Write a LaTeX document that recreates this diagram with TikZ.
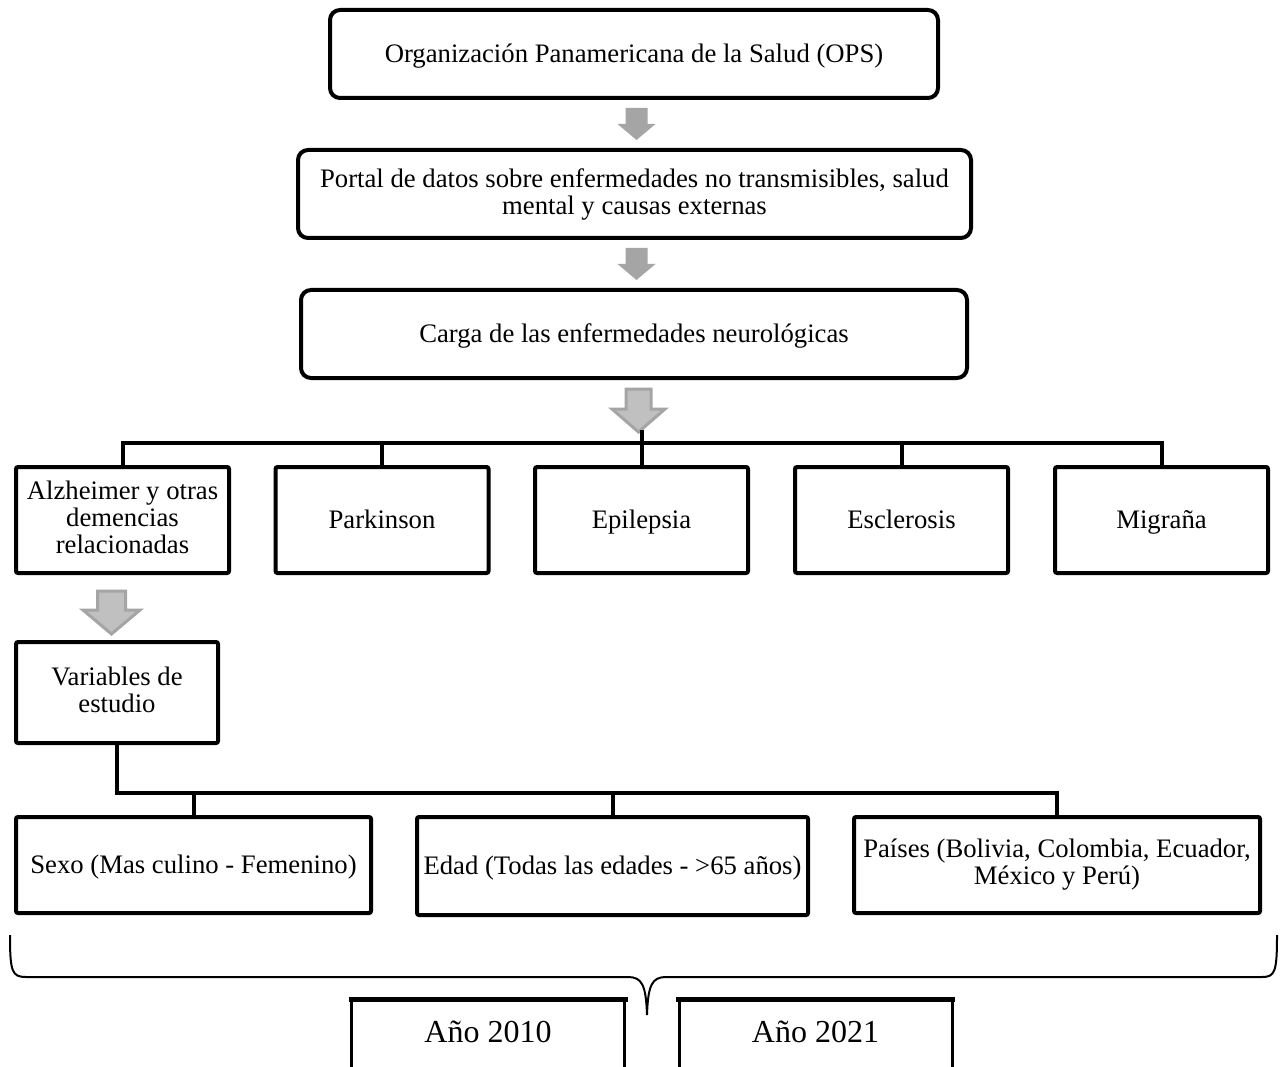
\documentclass[tikz,border=0pt]{standalone}
\usepackage{fontspec}
\setmainfont{Liberation Serif}
\usetikzlibrary{calc}
\definecolor{arrgray}{HTML}{A5A5A5}
\definecolor{arrfill}{HTML}{C0C0C0}
\newcommand{\mystrut}{\rule[-5pt]{0pt}{27pt}}
\begin{document}
\begin{tikzpicture}[x=1pt,y=-1pt,
  txt/.style={font=\fontsize{26.7}{27}\selectfont, align=center, inner sep=0pt,
    execute at begin node={\mystrut}, execute at end node={\mystrut}},
  roundbox/.style={txt, draw, line width=4pt, rounded corners=10pt},
  sqbox/.style={txt, draw, line width=4pt, rounded corners=2pt},
  yearbox/.style={draw, line width=3pt, inner sep=0pt, font=\fontsize{32}{36}\selectfont},
  conn/.style={line width=4pt},
  flatarrow/.style={fill=arrgray, draw=none},
  outarrow/.style={fill=arrfill, draw=arrgray, line width=3pt, line join=miter},
  bracestyle/.style={line width=2pt}
]
\useasboundingbox (0,0) rectangle (1280,1067);
\clip (0,0) rectangle (1280,1067);
\fill[white] (0,0) rectangle (1280,1067);

% top boxes
\node[roundbox, minimum width=608pt, minimum height=88pt] (ops) at (634,54) {Organización Panamericana de la Salud (OPS)};
\node[roundbox, minimum width=673pt, minimum height=88pt] (portal) at (634.5,194) {Portal de datos sobre enfermedades no transmisibles, salud\\mental y causas externas};
\node[roundbox, minimum width=666pt, minimum height=88pt] (carga) at (634,334) {Carga de las enfermedades neurológicas};

% block arrows
\fill[flatarrow] (625.5,108) -- (647.5,108) -- (647.5,124) -- (655.5,124) -- (636.5,140) -- (617.5,124) -- (625.5,124) -- cycle;
\fill[flatarrow] (625.5,248) -- (647.5,248) -- (647.5,264) -- (655.5,264) -- (636.5,280) -- (617.5,264) -- (625.5,264) -- cycle;
\filldraw[outarrow] (626,389) -- (651,389) -- (651,409) -- (665,409) -- (638.5,432) -- (612,409) -- (626,409) -- cycle;

% disease row
\node[sqbox, minimum width=213pt, minimum height=106pt] (alz) at (122.5,520) {Alzheimer y otras\\demencias\\relacionadas};
\node[sqbox, minimum width=213pt, minimum height=106pt] (park) at (382,520) {Parkinson};
\node[sqbox, minimum width=213pt, minimum height=106pt] (epi) at (641.5,520) {Epilepsia};
\node[sqbox, minimum width=213pt, minimum height=106pt] (escl) at (901.5,520) {Esclerosis};
\node[sqbox, minimum width=213pt, minimum height=106pt] (mig) at (1161.5,520) {Migraña};

\coordinate (bus) at (641.5,443);
\draw[conn] (alz.north) |- (bus) -| (mig.north);
\draw[conn] (park.north) -- (park.north |- bus);
\draw[conn] (escl.north) -- (escl.north |- bus);
\draw[conn] (epi.north) -- ($(epi.north |- bus)+(0,-13)$);

% arrow to variables
\filldraw[outarrow] (97.5,591) -- (125.5,591) -- (125.5,610) -- (140,610) -- (111.5,634) -- (83,610) -- (97.5,610) -- cycle;

\node[sqbox, minimum width=202pt, minimum height=101pt] (var) at (117,692.5) {Variables de\\estudio};

% variables row
\node[sqbox, minimum width=355pt, minimum height=96pt] (sexo) at (193.5,865) {Sexo (Mas culino - Femenino)};
\node[sqbox, minimum width=391pt, minimum height=98pt] (edad) at (612.5,866) {Edad (Todas las edades - >65 años)};
\node[sqbox, minimum width=406pt, minimum height=96pt] (pais) at (1057,865) {Países (Bolivia, Colombia, Ecuador,\\México y Perú)};

\coordinate (bus2) at (612.5,793);
\draw[conn] (var.south) |- (bus2) -| (pais.north);
\draw[conn] (sexo.north) -- (sexo.north |- bus2);
\draw[conn] (edad.north) -- (edad.north |- bus2);

% brace
\draw[bracestyle] (10,935) .. controls (10,972) and (12,977) .. (26,977) -- (628,977)
  .. controls (642,977) and (646,985) .. (647,1015)
  .. controls (648,985) and (652,977) .. (666,977) -- (1262,977)
  .. controls (1275,977) and (1277,972) .. (1277,935);

% year boxes
\node[yearbox, minimum width=273pt, minimum height=90pt, anchor=north] (y10) at (488,999) {\raisebox{27pt}{Año 2010}};
\node[yearbox, minimum width=273pt, minimum height=90pt, anchor=north] (y21) at (815.5,999) {\raisebox{27pt}{Año 2021}};
\draw[line width=5pt] ($(y10.north west)+(-1.5,0)$) -- ($(y10.north east)+(1.5,0)$);
\draw[line width=5pt] ($(y21.north west)+(-1.5,0)$) -- ($(y21.north east)+(1.5,0)$);
\end{tikzpicture}
\end{document}
